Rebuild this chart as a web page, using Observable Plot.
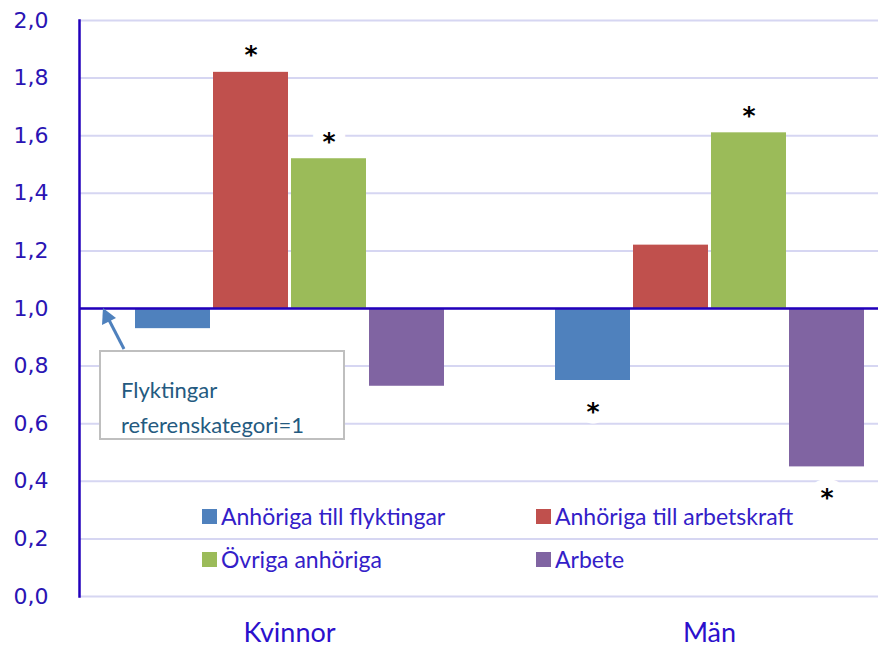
<!DOCTYPE html>
<html>
<head>
<meta charset="utf-8">
<script src="https://cdn.jsdelivr.net/npm/d3@7"></script>
<script src="https://cdn.jsdelivr.net/npm/@observablehq/plot@0.6"></script>
<style>
  html, body { margin: 0; padding: 0; background: white; }
  #wrap { position: relative; width: 878px; height: 655px; overflow: hidden; }
  #legend { position: absolute; left: 202px; top: 503px; display: grid; grid-template-columns: 334px 300px; row-gap: 17px;
            font-family: "Liberation Sans Narrow", Lato, sans-serif; font-size: 23px; color: #3320c8; }
  #legend .item { display: flex; align-items: center; height: 26px; white-space: nowrap; }
  #legend .sw { width: 15px; height: 15px; margin-right: 4px; flex: none; }
  #note { position: absolute; left: 99px; top: 350px; width: 242px; height: 86px; border: 2px solid #bfbfbf; background: white;
          font-family: "Liberation Sans Narrow", Lato, sans-serif; font-size: 22px; color: #245a80; line-height: 35px; padding: 0; }
  #note div { padding-left: 20px; }
  #arrow { position: absolute; left: 0; top: 0; pointer-events: none; }
</style>
</head>
<body>
<div id="wrap"></div>
<script>
const groups = ["Kvinnor", "Män"];
const series = ["Anhöriga till flyktingar", "Anhöriga till arbetskraft", "Övriga anhöriga", "Arbete"];
const colors = ["#4f81bd", "#c0504d", "#9bbb59", "#8064a2"];
const kvinnorValues = [0.93, 1.82, 1.52, 0.73];
const manValues = [0.75, 1.22, 1.61, 0.45];
const kvinnorSignificant = [false, true, true, false];
const manSignificant = [true, false, true, true];
const yTicks = [0, 0.2, 0.4, 0.6, 0.8, 1.0, 1.2, 1.4, 1.6, 1.8, 2.0];
const referenceValue = 1;
const noteLines = ["Flyktingar", "referenskategori=1"];

const data = [];
series.forEach((s, i) => {
  data.push({group: groups[0], series: s, value: kvinnorValues[i], sig: kvinnorSignificant[i]});
  data.push({group: groups[1], series: s, value: manValues[i], sig: manSignificant[i]});
});
const sigUp = data.filter(d => d.sig && d.value > referenceValue);
const sigDown = data.filter(d => d.sig && d.value < referenceValue);

const axisColor = "#2200bb";
const fmt = d => d.toFixed(1).replace(".", ",");
const starStyle = {fx: "group", x: "series", y: "value", text: () => "*", fontSize: 25, fontWeight: "bold",
  fill: "black", stroke: "white", strokeWidth: 20, fontFamily: "DejaVu Sans, sans-serif", lineAnchor: "middle"};

const chart = Plot.plot({
  width: 878,
  height: 655,
  marginLeft: 79,
  marginRight: 0,
  marginTop: 20,
  marginBottom: 59,
  style: {background: "white", fontFamily: "Lato, sans-serif"},
  fx: {domain: groups, range: [79, 919], padding: 0, label: null, axis: null},
  x: {domain: series, paddingInner: 0.04, paddingOuter: 0.7, axis: null},
  y: {domain: [0, 2], axis: null},
  color: {domain: series, range: colors},
  marks: [
    Plot.gridY(yTicks, {stroke: "#d6d6f2", strokeOpacity: 1, strokeWidth: 2}),
    Plot.text(sigUp, {...starStyle, dy: -17}),
    Plot.text(sigDown, {...starStyle, dy: 31}),
    Plot.barY(data, {fx: "group", x: "series", y1: referenceValue, y2: "value", fill: "series"}),
    Plot.ruleY([referenceValue], {stroke: axisColor, strokeWidth: 2.5}),
    Plot.frame({anchor: "left", stroke: axisColor, strokeWidth: 2.5, facetAnchor: "left"}),
    Plot.axisY(yTicks, {tickSize: 0, tickPadding: 31, tickFormat: fmt, fontSize: 22, fontFamily: "DejaVu Sans, sans-serif", fill: "#2a14b4", label: null}),
    Plot.axisFx({anchor: "bottom", tickSize: 0, tickPadding: 26, fontSize: 27, fontFamily: "Lato, sans-serif", fill: "#2b10cc", label: null})
  ]
});

const wrap = document.getElementById("wrap");
wrap.appendChild(chart);

// annotation box
const note = document.createElement("div");
note.id = "note";
note.innerHTML = `<div style="margin-top:20px">${noteLines[0]}</div><div>${noteLines[1]}</div>`;
wrap.appendChild(note);

// arrow
const ns = "http://www.w3.org/2000/svg";
const svg = document.createElementNS(ns, "svg");
svg.setAttribute("id", "arrow");
svg.setAttribute("width", 878);
svg.setAttribute("height", 655);
svg.innerHTML = `<line x1="124" y1="349" x2="109" y2="320" stroke="#4f81bd" stroke-width="3"/>
<polygon points="103,308 102,325 116,318" fill="#4f81bd"/>`;
wrap.appendChild(svg);

// legend
const legend = document.createElement("div");
legend.id = "legend";
series.forEach((s, i) => {
  const item = document.createElement("div");
  item.className = "item";
  item.innerHTML = `<span class="sw" style="background:${colors[i]}"></span><span>${s}</span>`;
  legend.appendChild(item);
});
wrap.appendChild(legend);
</script>
</body>
</html>
